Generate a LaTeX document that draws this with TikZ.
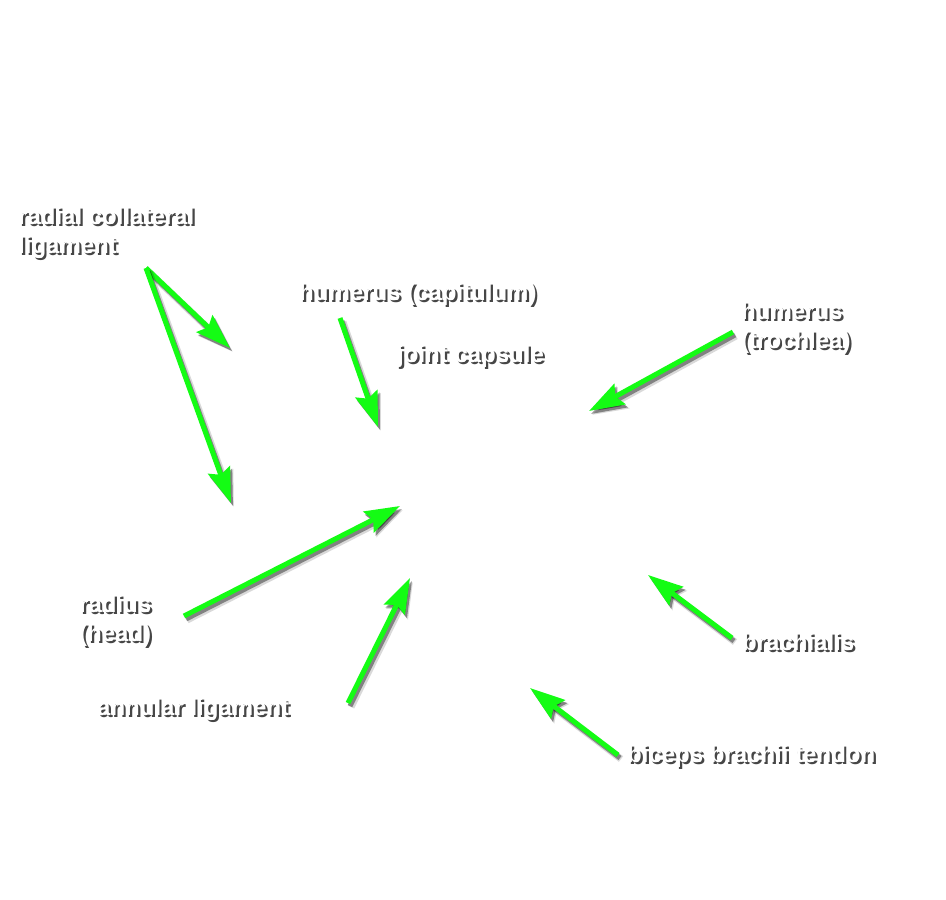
\documentclass[tikz,border=0pt]{standalone}
\usepackage{fontspec}
\setmainfont{Liberation Sans}
\usetikzlibrary{arrows.meta,calc}
\definecolor{arrowgreen}{RGB}{20,252,20}
\definecolor{shadowgray}{RGB}{70,70,70}
\newcommand{\shl}[1]{\rlap{\kern2.2pt\raisebox{-2.2pt}{\textcolor{shadowgray}{#1}}}#1}
\tikzset{
  lbl/.style={anchor=base west, inner sep=0pt, align=left, text=white,
    font=\fontsize{24}{29}\selectfont\bfseries},
  arr/.style={line width=5pt, -{Stealth[length=35pt,width=23pt,inset=5pt]}},
  arrshadow/.style={arr, draw=black, opacity=0.4},
  arrmain/.style={arr, draw=arrowgreen},
}
\newcommand{\myarrow}[2]{%
  \draw[arrshadow, opacity=0.15, line width=7pt] ($(#1)+(3,4)$) -- ($(#2)+(3,4)$);
  \draw[arrshadow] ($(#1)+(2,3)$) -- ($(#2)+(2,3)$);
  \draw[arrmain] (#1) -- (#2);}
\begin{document}
\begin{tikzpicture}[x=1pt,y=-1pt]
\useasboundingbox[fill=white] (0,0) rectangle (946,900);
% labels
\node[lbl] (rcl) at (18,253) {\shl{radial collateral}\\\shl{ligament}};
\node[lbl] (hcap) at (299,300) {\shl{humerus (capitulum)}};
\node[lbl] (jc) at (397,362) {\shl{joint capsule}};
\node[lbl] (htro) at (741,348) {\shl{humerus}\\\shl{(trochlea)}};
\node[lbl] (rad) at (79,641) {\shl{radius}\\\shl{(head)}};
\node[lbl] (ann) at (97,715) {\shl{annular ligament}};
\node[lbl] (brach) at (742,650) {\shl{brachialis}};
\node[lbl] (bic) at (627,762) {\shl{biceps brachii tendon}};
% arrow end points
\coordinate (rclS) at (146,268);
\coordinate (rclA) at (230,348);
\coordinate (rclB) at (231,503);
\coordinate (hcapS) at (340,318);
\coordinate (hcapT) at (378,427);
\coordinate (htroS) at (733,332);
\coordinate (htroT) at (589,411);
\coordinate (radS) at (184,616);
\coordinate (radT) at (400,506);
\coordinate (annS) at (348,703);
\coordinate (annT) at (410,578);
\coordinate (brS) at (732,638);
\coordinate (brT) at (648,575);
\coordinate (bicS) at (618,755);
\coordinate (bicT) at (530,688);
% arrows
\myarrow{rclS}{rclA}
\myarrow{rclS}{rclB}
\myarrow{hcapS}{hcapT}
\myarrow{htroS}{htroT}
\myarrow{radS}{radT}
\myarrow{annS}{annT}
\myarrow{brS}{brT}
\myarrow{bicS}{bicT}
\end{tikzpicture}
\end{document}
